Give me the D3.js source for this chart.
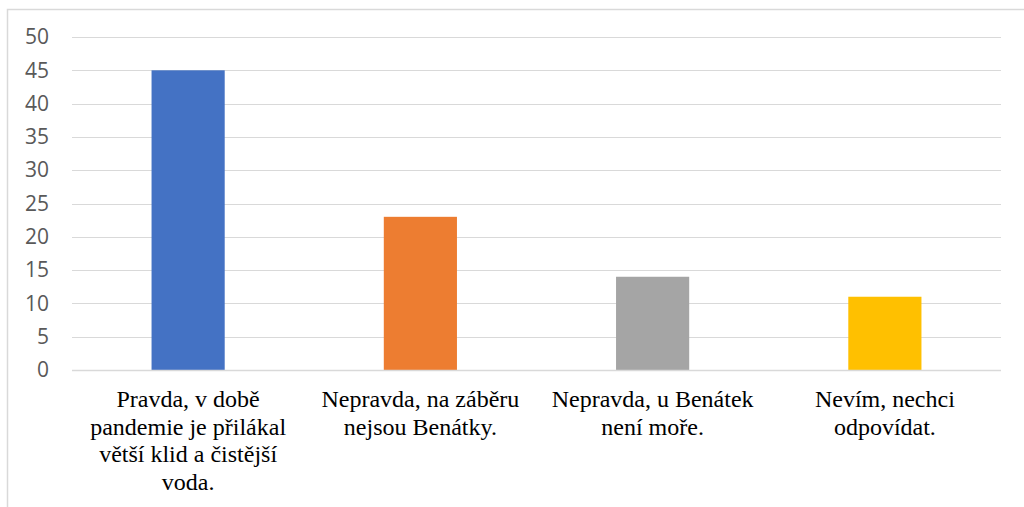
<!DOCTYPE html>
<html>
<head>
<meta charset="utf-8">
<script src="https://cdn.jsdelivr.net/npm/d3@7"></script>
<style>
  html, body { margin: 0; padding: 0; background: #fff; }
  svg { display: block; }
  .cat { font-family: "Liberation Serif", "Times New Roman", Times, "DejaVu Serif", serif; font-size: 24px; }
</style>
</head>
<body>
<div id="chart"></div>
<script>
// ─── Data ─────────────────────────────────────────────────────────────────────
const categories = [
  ["Pravda, v době", "pandemie je přilákal", "větší klid a čistější", "voda."],
  ["Nepravda, na záběru", "nejsou Benátky."],
  ["Nepravda, u Benátek", "není moře."],
  ["Nevím, nechci", "odpovídat."],
];
const values = [45, 23, 14, 11];
const barColors = ["#4472c4", "#ed7d31", "#a5a5a5", "#ffc000"];
const yTicks = [0, 5, 10, 15, 20, 25, 30, 35, 40, 45, 50];

// ─── Layout ───────────────────────────────────────────────────────────────────
const W = 1024, H = 507;
const margin = { top: 37, right: 23, bottom: 137, left: 72 };
const w = W - margin.left - margin.right;
const h = H - margin.top - margin.bottom;

const svg = d3.select("#chart").append("svg")
  .attr("width", W).attr("height", H);

// chart frame (cropped on right / bottom)
svg.append("rect")
  .attr("x", 7.5).attr("y", 9.5)
  .attr("width", W + 10).attr("height", H + 10)
  .attr("fill", "none").attr("stroke", "#d9d9d9").attr("stroke-width", 1.5);

const g = svg.append("g").attr("transform", `translate(${margin.left},${margin.top})`);

const idx = d3.range(values.length);
const x = d3.scaleBand().domain(idx).range([0, w]).paddingInner(0.685).paddingOuter(0.3425);
const y = d3.scaleLinear().domain([0, 50]).range([h, 0]);

// gridlines
g.append("g").selectAll("line").data(yTicks.filter((t) => t > 0)).join("line")
  .attr("x1", 0).attr("x2", w)
  .attr("y1", (d) => Math.round(y(d)) + 0.5).attr("y2", (d) => Math.round(y(d)) + 0.5)
  .attr("stroke", "#d9d9d9").attr("stroke-width", 1);

// y axis labels
const yAxis = g.append("g")
  .call(d3.axisLeft(y).tickValues(yTicks).tickSize(0).tickPadding(23));
yAxis.select(".domain").remove();
yAxis.selectAll("text")
  .attr("fill", "#595959")
  .style("font-family", "'Open Sans', 'Liberation Sans', sans-serif")
  .style("font-size", "21px");

// bars
g.append("g").selectAll("rect").data(values).join("rect")
  .attr("x", (d, i) => x(i))
  .attr("y", (d) => y(d))
  .attr("width", x.bandwidth())
  .attr("height", (d) => y(0) - y(d))
  .attr("fill", (d, i) => barColors[i]);

// baseline
g.append("line")
  .attr("x1", 0).attr("x2", w)
  .attr("y1", Math.round(y(0)) + 0.5).attr("y2", Math.round(y(0)) + 0.5)
  .attr("stroke", "#d9d9d9").attr("stroke-width", 1.5);

// category labels
const labels = g.append("g").selectAll("text").data(categories).join("text")
  .attr("class", "cat")
  .attr("x", (d, i) => x(i) + x.bandwidth() / 2)
  .attr("y", h + 37)
  .attr("text-anchor", "middle")
  .attr("fill", "#000");
labels.selectAll("tspan").data((d) => d).join("tspan")
  .attr("x", function () { return d3.select(this.parentNode).attr("x"); })
  .attr("dy", (d, i) => (i === 0 ? 0 : 27.7))
  .text((d) => d);
</script>
</body>
</html>
